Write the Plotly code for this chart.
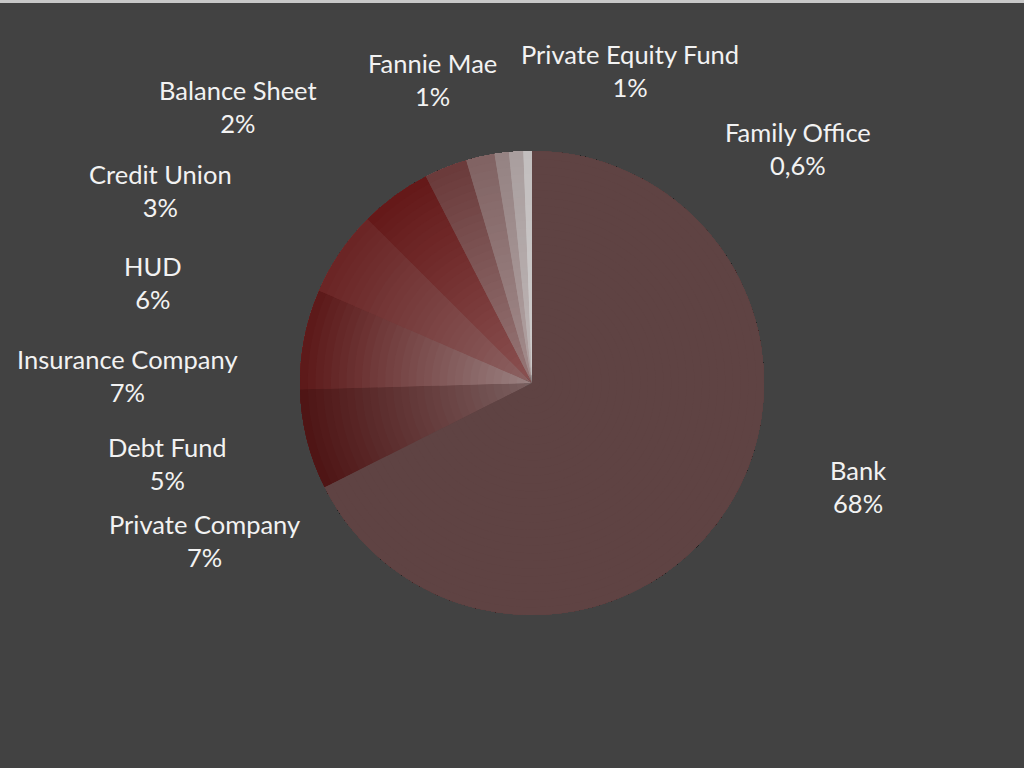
import plotly.graph_objects as go

# lender types, clockwise from 12 o'clock (sorted by share, like the source sheet)
labels = ['Bank', 'Private Company', 'Insurance Company', 'HUD', 'Debt Fund',
          'Credit Union', 'Balance Sheet', 'Fannie Mae', 'Private Equity Fund', 'Family Office']
shares = [68, 7, 7, 6, 5, 3, 2, 1, 1, 0.6]
pct_text = ['68%', '7%', '7%', '6%', '5%', '3%', '2%', '1%', '1%', '0,6%']

# slice colours near the centre and at the rim (fake the Excel gloss gradient)
inner_colors = ['#5f4343', '#7a6060', '#9a8282', '#8c6262', '#8a5252',
                '#977878', '#a48e8e', '#b2a3a3', '#bfb7b7', '#d0cdcd']
outer_colors = ['#5f4343', '#4e1414', '#5c1818', '#6a2424', '#641818',
                '#6a3a3a', '#806262', '#958282', '#a99e9e', '#c2bebe']

# where Excel put each label (pixel centre of the two-line block)
label_pos = [(858, 486), (204, 540), (127, 376), (153, 283), (167, 463),
             (160, 191), (238, 107), (432, 80), (630, 70), (798, 148)]

W, H = 1024, 768
cx, cy, r = 532, 383, 232
n_layers = 30


def mix(c1, c2, t):
    a = [int(c1[i:i + 2], 16) for i in (1, 3, 5)]
    b = [int(c2[i:i + 2], 16) for i in (1, 3, 5)]
    return 'rgb(%d,%d,%d)' % tuple(round(a[i] + (b[i] - a[i]) * t) for i in range(3))


dom = dict(x=[(cx - r) / W, (cx + r) / W], y=[(H - cy - r) / H, (H - cy + r) / H])

fig = go.Figure()
for k in range(n_layers):
    t = (k + 0.5) / n_layers
    fig.add_trace(go.Pie(
        labels=labels,
        values=shares,
        sort=False,
        direction='clockwise',
        rotation=0,
        hole=k / n_layers,
        textinfo='none',
        hoverinfo='label+percent' if k == n_layers - 1 else 'skip',
        marker=dict(colors=[mix(i, o, t) for i, o in zip(inner_colors, outer_colors)],
                    line=dict(width=0)),
        domain=dom,
        showlegend=False,
    ))

annotations = []
for lab, pct, (px, py) in zip(labels, pct_text, label_pos):
    annotations.append(dict(
        x=px / W, y=1 - py / H, xref='paper', yref='paper',
        text=lab + '<br>' + pct, showarrow=False, align='center',
        xanchor='center', yanchor='middle',
        font=dict(family='Lato, Open Sans, sans-serif', size=25.5, color='#f2f2f2'),
    ))

fig.update_layout(
    width=W, height=H,
    margin=dict(l=0, r=0, t=0, b=0),
    paper_bgcolor='#424242',
    plot_bgcolor='#424242',
    annotations=annotations,
    shapes=[dict(type='rect', xref='paper', yref='paper', x0=0, x1=1,
                 y0=1 - 3 / H, y1=1, fillcolor='#c8c8c8', line=dict(width=0))],
)

fig.write_html("out.html", config={'displayModeBar': False},
               post_script="document.body.style.margin='0';")
